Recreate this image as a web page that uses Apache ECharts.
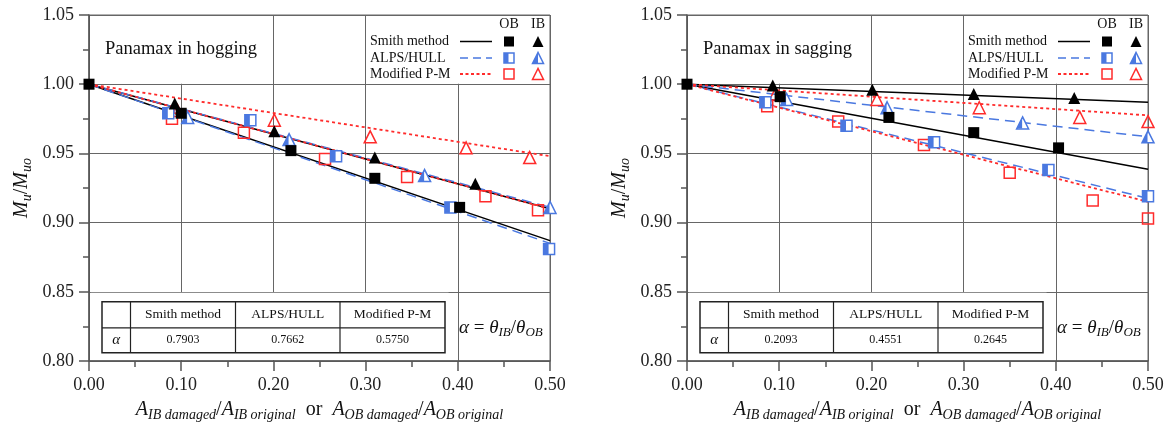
<!DOCTYPE html>
<html><head><meta charset="utf-8">
<script src="https://cdn.jsdelivr.net/npm/echarts@6/dist/echarts.min.js"></script>
<style>html,body{margin:0;padding:0;background:#fff}#c{width:1169px;height:427px}</style>
</head><body><div id="c"></div>
<script>
// ---------- data ----------
const panelTitles = ['Panamax in hogging', 'Panamax in sagging'];
const methodNames = ['Smith method', 'ALPS/HULL', 'Modified P-M'];
const hogAlpha = ['0.7903', '0.7662', '0.5750'];
const sagAlpha = ['0.2093', '0.4551', '0.2645'];

// fitted lines: value at x = 0.5 for [OB, IB], all start at (0, 1)
const hogFitSmith = [0.887, 0.910];
const hogFitAlps  = [0.885, 0.911];
const hogFitPm    = [0.910, 0.948];
const sagFitSmith = [0.9385, 0.987];
const sagFitAlps  = [0.9175, 0.962];
const sagFitPm    = [0.915, 0.9775];

// hogging points
const hogSmithOB = [[0,1.000],[0.100,0.979],[0.219,0.952],[0.310,0.932],[0.402,0.911],[0.506,0.885]];
const hogSmithIB = [[0.093,0.986],[0.201,0.966],[0.310,0.947],[0.419,0.928],[0.506,0.911]];
const hogAlpsOB  = [[0.086,0.979],[0.175,0.974],[0.268,0.948],[0.392,0.911],[0.499,0.881]];
const hogAlpsIB  = [[0.107,0.976],[0.217,0.960],[0.364,0.934],[0.500,0.911]];
const hogPmOB    = [[0.090,0.975],[0.168,0.965],[0.256,0.946],[0.345,0.933],[0.430,0.919],[0.487,0.909]];
const hogPmIB    = [[0.096,0.981],[0.201,0.974],[0.305,0.962],[0.409,0.954],[0.478,0.947]];

// sagging points
const sagSmithOB = [[0,1.000],[0.101,0.991],[0.219,0.976],[0.311,0.965],[0.403,0.954],[0.509,0.940]];
const sagSmithIB = [[0.093,0.999],[0.201,0.996],[0.311,0.993],[0.420,0.990],[0.504,0.987]];
const sagAlpsOB  = [[0.085,0.987],[0.173,0.970],[0.268,0.958],[0.392,0.938],[0.500,0.919]];
const sagAlpsIB  = [[0.108,0.989],[0.217,0.983],[0.364,0.972],[0.500,0.962]];
const sagPmOB    = [[0.087,0.984],[0.164,0.973],[0.257,0.956],[0.350,0.936],[0.440,0.916],[0.500,0.903]];
const sagPmIB    = [[0.096,0.993],[0.206,0.989],[0.317,0.983],[0.426,0.976],[0.500,0.973]];

// ---------- styles ----------
const FONT = 'Liberation Serif';
const BLACK = '#000', BLUE = '#4a78e0', RED = '#ff2b2b';
const HALF_TRI = 'path://M10 0 L10 20 L0 20 Z';

const chart = echarts.init(document.getElementById('c'), null, {renderer: 'canvas'});

const xName = '{i|A}{s|IB damaged}{n|/}{i|A}{s|IB original}{n|  or  }{i|A}{s|OB damaged}{n|/}{i|A}{s|OB original}';
const yName = '{i|M}{s|u}{n|/}{i|M}{s|uo}';
const nameRich = {
  i: {fontFamily: FONT, fontStyle: 'italic', fontSize: 20, color: '#111'},
  n: {fontFamily: FONT, fontSize: 20, color: '#111'},
  s: {fontFamily: FONT, fontStyle: 'italic', fontSize: 14, color: '#111', padding: [10, 0, 0, 0]}
};

function xAxisDef(gi) {
  return {
    gridIndex: gi, type: 'value', min: 0, max: 0.5, interval: 0.1,
    axisLine: {show: true, onZero: false, lineStyle: {color: '#555', width: 1.5}},
    axisTick: {show: true, length: 10, lineStyle: {color: '#555', width: 1.5}},
    minorTick: {show: true, splitNumber: 2, length: 6, lineStyle: {color: '#555', width: 1.5}},
    splitLine: {show: true, lineStyle: {color: '#666', width: 1}},
    axisLabel: {formatter: v => v.toFixed(2), fontFamily: FONT, fontSize: 18, color: '#222', margin: 15},
    name: xName, nameLocation: 'middle', nameGap: 37, nameTextStyle: {rich: nameRich}
  };
}
function yAxisDef(gi) {
  return {
    gridIndex: gi, type: 'value', min: 0.80, max: 1.05, interval: 0.05,
    axisLine: {show: true, onZero: false, lineStyle: {color: '#555', width: 1.5}},
    axisTick: {show: true, length: 10, lineStyle: {color: '#555', width: 1.5}},
    minorTick: {show: true, splitNumber: 2, length: 6, lineStyle: {color: '#555', width: 1.5}},
    splitLine: {show: true, lineStyle: {color: '#666', width: 1}},
    axisLabel: {formatter: v => v.toFixed(2), fontFamily: FONT, fontSize: 18, color: '#222', margin: 15},
    name: yName, nameLocation: 'middle', nameGap: 55, nameRotate: 90, nameTextStyle: {rich: nameRich}
  };
}

function fitLine(gi, end, color, type, width) {
  return {type: 'line', xAxisIndex: gi, yAxisIndex: gi, data: [[0, 1], [0.5, end]],
    symbol: 'none', showSymbol: false, silent: true, z: 2,
    lineStyle: {color: color, type: type, width: width}};
}
function pts(gi, data, symbol, size, itemStyle, offset, z) {
  return {type: 'scatter', xAxisIndex: gi, yAxisIndex: gi, data: data, symbol: symbol,
    symbolSize: size, symbolOffset: offset || [0, 0], itemStyle: Object.assign({opacity: 1}, itemStyle), silent: true, z: z || 3};
}
function panelSeries(gi, fits, sets) {
  const [fs, fa, fp] = fits;
  const [sOB, sIB, aOB, aIB, pOB, pIB] = sets;
  const openBlue = {color: '#fff', borderColor: BLUE, borderWidth: 1.5};
  const openRed = {color: 'rgba(0,0,0,0)', borderColor: RED, borderWidth: 1.5};
  return [
    fitLine(gi, fs[0], BLACK, 'solid', 1.5),
    fitLine(gi, fs[1], BLACK, 'solid', 1.5),
    fitLine(gi, fa[0], BLUE, [10, 6], 1.5),
    fitLine(gi, fa[1], BLUE, [10, 6], 1.5),
    fitLine(gi, fp[0], RED, [3, 3], 1.8),
    fitLine(gi, fp[1], RED, [3, 3], 1.8),
    pts(gi, pOB, 'rect', 11, openRed, null, 3),
    pts(gi, pIB, 'triangle', 12, openRed, null, 3),
    pts(gi, aOB, 'rect', 11, openBlue, null, 4),
    pts(gi, aOB, 'rect', [5, 11], {color: BLUE}, [-3, 0], 5),
    pts(gi, aIB, 'triangle', 12, openBlue, null, 4),
    pts(gi, aIB, HALF_TRI, [5, 11], {color: BLUE}, [-3, 0], 5),
    pts(gi, sIB, 'triangle', 12, {color: BLACK}, null, 6),
    pts(gi, sOB, 'rect', 11, {color: BLACK}, null, 6)
  ];
}

const option = {
  animation: false,
  backgroundColor: '#fff',
  grid: [
    {left: 89, top: 15, width: 461, height: 346, show: true, borderColor: '#666', borderWidth: 1, backgroundColor: 'rgba(0,0,0,0)'},
    {left: 687, top: 15, width: 461, height: 346, show: true, borderColor: '#666', borderWidth: 1, backgroundColor: 'rgba(0,0,0,0)'}
  ],
  xAxis: [xAxisDef(0), xAxisDef(1)],
  yAxis: [yAxisDef(0), yAxisDef(1)],
  series: [].concat(
    panelSeries(0, [hogFitSmith, hogFitAlps, hogFitPm], [hogSmithOB, hogSmithIB, hogAlpsOB, hogAlpsIB, hogPmOB, hogPmIB]),
    panelSeries(1, [sagFitSmith, sagFitAlps, sagFitPm], [sagSmithOB, sagSmithIB, sagAlpsOB, sagAlpsIB, sagPmOB, sagPmIB])
  )
};
chart.setOption(option);

function tri(cx, cy, s, style, z) {
  return {type: 'polygon', shape: {points: [[cx, cy - s / 2], [cx - s / 2, cy + s / 2], [cx + s / 2, cy + s / 2]]}, style: style, z: z, silent: true};
}
function txt(x, y, text, size, align, extra, z) {
  return {type: 'text', x: x, y: y, z: z || 6, silent: true,
    style: Object.assign({text: text, fontFamily: FONT, fontSize: size, fill: '#111', align: align || 'left', verticalAlign: 'middle'}, extra || {})};
}

function panelGraphics(gi, title, alphas) {
  const p = (x, y) => chart.convertToPixel({gridIndex: gi}, [x, y]);
  const L = p(0, 1)[0], R = p(0.5, 1)[0];
  const T = p(0, 1.05)[1], B = p(0, 0.80)[1];
  const y100 = p(0, 1.00)[1], y085 = p(0, 0.85)[1];
  const g = [];
  const white = {fill: '#fff'};
  // masks that hide grid lines behind the title, legend and table
  g.push({type: 'rect', z: 1, silent: true, style: white,
    shape: {x: L + 1.5, y: T + 1, width: p(0.19, 1)[0] - L - 1.5, height: y100 - T - 1.5}});
  g.push({type: 'rect', z: 1, silent: true, style: white,
    shape: {x: p(0.31, 1)[0], y: T + 1, width: R - 1 - p(0.31, 1)[0], height: y100 - T - 1.5}});
  g.push({type: 'rect', z: 1, silent: true, style: white,
    shape: {x: L + 1.5, y: y085 + 1, width: p(0.39, 1)[0] - L - 1.5, height: B - y085 - 2}});
  // title
  g.push(txt(L + 16, T + 34, title, 18.5, 'left'));
  // legend
  const rows = [T + 26.5, T + 43, T + 59];
  g.push(txt(R - 41, T + 9, 'OB', 14, 'center'));
  g.push(txt(R - 12, T + 9, 'IB', 14, 'center'));
  const lineStyles = [
    {stroke: BLACK, lineWidth: 1.5},
    {stroke: BLUE, lineWidth: 1.5, lineDash: [8, 5]},
    {stroke: RED, lineWidth: 1.8, lineDash: [3, 2.5]}
  ];
  methodNames.forEach((nm, k) => {
    const y = rows[k];
    g.push(txt(R - 180, y, nm, 14, 'left'));
    g.push({type: 'line', z: 6, silent: true, shape: {x1: R - 90, y1: y, x2: R - 58, y2: y}, style: lineStyles[k]});
  });
  // legend markers
  g.push({type: 'rect', z: 6, silent: true, shape: {x: R - 46, y: rows[0] - 5, width: 10, height: 10}, style: {fill: BLACK}});
  g.push(tri(R - 12, rows[0], 11, {fill: BLACK}, 6));
  g.push({type: 'rect', z: 6, silent: true, shape: {x: R - 46, y: rows[1] - 5, width: 10, height: 10}, style: {fill: '#fff', stroke: BLUE, lineWidth: 1.5}});
  g.push({type: 'rect', z: 7, silent: true, shape: {x: R - 46, y: rows[1] - 5, width: 4.5, height: 10}, style: {fill: BLUE}});
  g.push(tri(R - 12, rows[1], 11, {fill: '#fff', stroke: BLUE, lineWidth: 1.5}, 6));
  g.push({type: 'polygon', z: 7, silent: true, shape: {points: [[R - 12, rows[1] - 5.5], [R - 17.5, rows[1] + 5.5], [R - 12, rows[1] + 5.5]]}, style: {fill: BLUE}});
  g.push({type: 'rect', z: 6, silent: true, shape: {x: R - 46, y: rows[2] - 5, width: 10, height: 10}, style: {fill: 'none', stroke: RED, lineWidth: 1.5}});
  g.push(tri(R - 12, rows[2], 11, {fill: 'none', stroke: RED, lineWidth: 1.5}, 6));
  // table
  const tx = [L + 13, L + 41.5, L + 146.5, L + 251, L + 356];
  const ty = [y085 + 10, y085 + 36, y085 + 61];
  g.push({type: 'rect', z: 5, silent: true, shape: {x: tx[0], y: ty[0], width: tx[4] - tx[0], height: ty[2] - ty[0]},
    style: {fill: '#fff', stroke: '#222', lineWidth: 1.5}});
  g.push({type: 'line', z: 6, silent: true, shape: {x1: tx[0], y1: ty[1], x2: tx[4], y2: ty[1]}, style: {stroke: '#222', lineWidth: 1.2}});
  for (let k = 1; k < 4; k++) {
    g.push({type: 'line', z: 6, silent: true, shape: {x1: tx[k], y1: ty[0], x2: tx[k], y2: ty[2]}, style: {stroke: '#222', lineWidth: 1.2}});
  }
  g.push(txt((tx[0] + tx[1]) / 2, (ty[1] + ty[2]) / 2, 'α', 15, 'center', {fontStyle: 'italic'}));
  methodNames.forEach((nm, k) => {
    g.push(txt((tx[k + 1] + tx[k + 2]) / 2, (ty[0] + ty[1]) / 2, nm, 13.5, 'center'));
    g.push(txt((tx[k + 1] + tx[k + 2]) / 2, (ty[1] + ty[2]) / 2, alphas[k], 12, 'center'));
  });
  // alpha definition
  g.push({type: 'text', z: 6, silent: true, x: L + 370, y: ty[1], style: {
    text: '{i|α}{n| = }{i|θ}{s|IB}{n|/}{i|θ}{s|OB}', verticalAlign: 'middle', align: 'left',
    rich: {
      i: {fontFamily: FONT, fontStyle: 'italic', fontSize: 19, fill: '#111'},
      n: {fontFamily: FONT, fontSize: 19, fill: '#111'},
      s: {fontFamily: FONT, fontStyle: 'italic', fontSize: 13, fill: '#111', padding: [9, 0, 0, 0]}
    }}});
  return g;
}

chart.setOption({graphic: [].concat(panelGraphics(0, panelTitles[0], hogAlpha), panelGraphics(1, panelTitles[1], sagAlpha))});
</script>
</body></html>
